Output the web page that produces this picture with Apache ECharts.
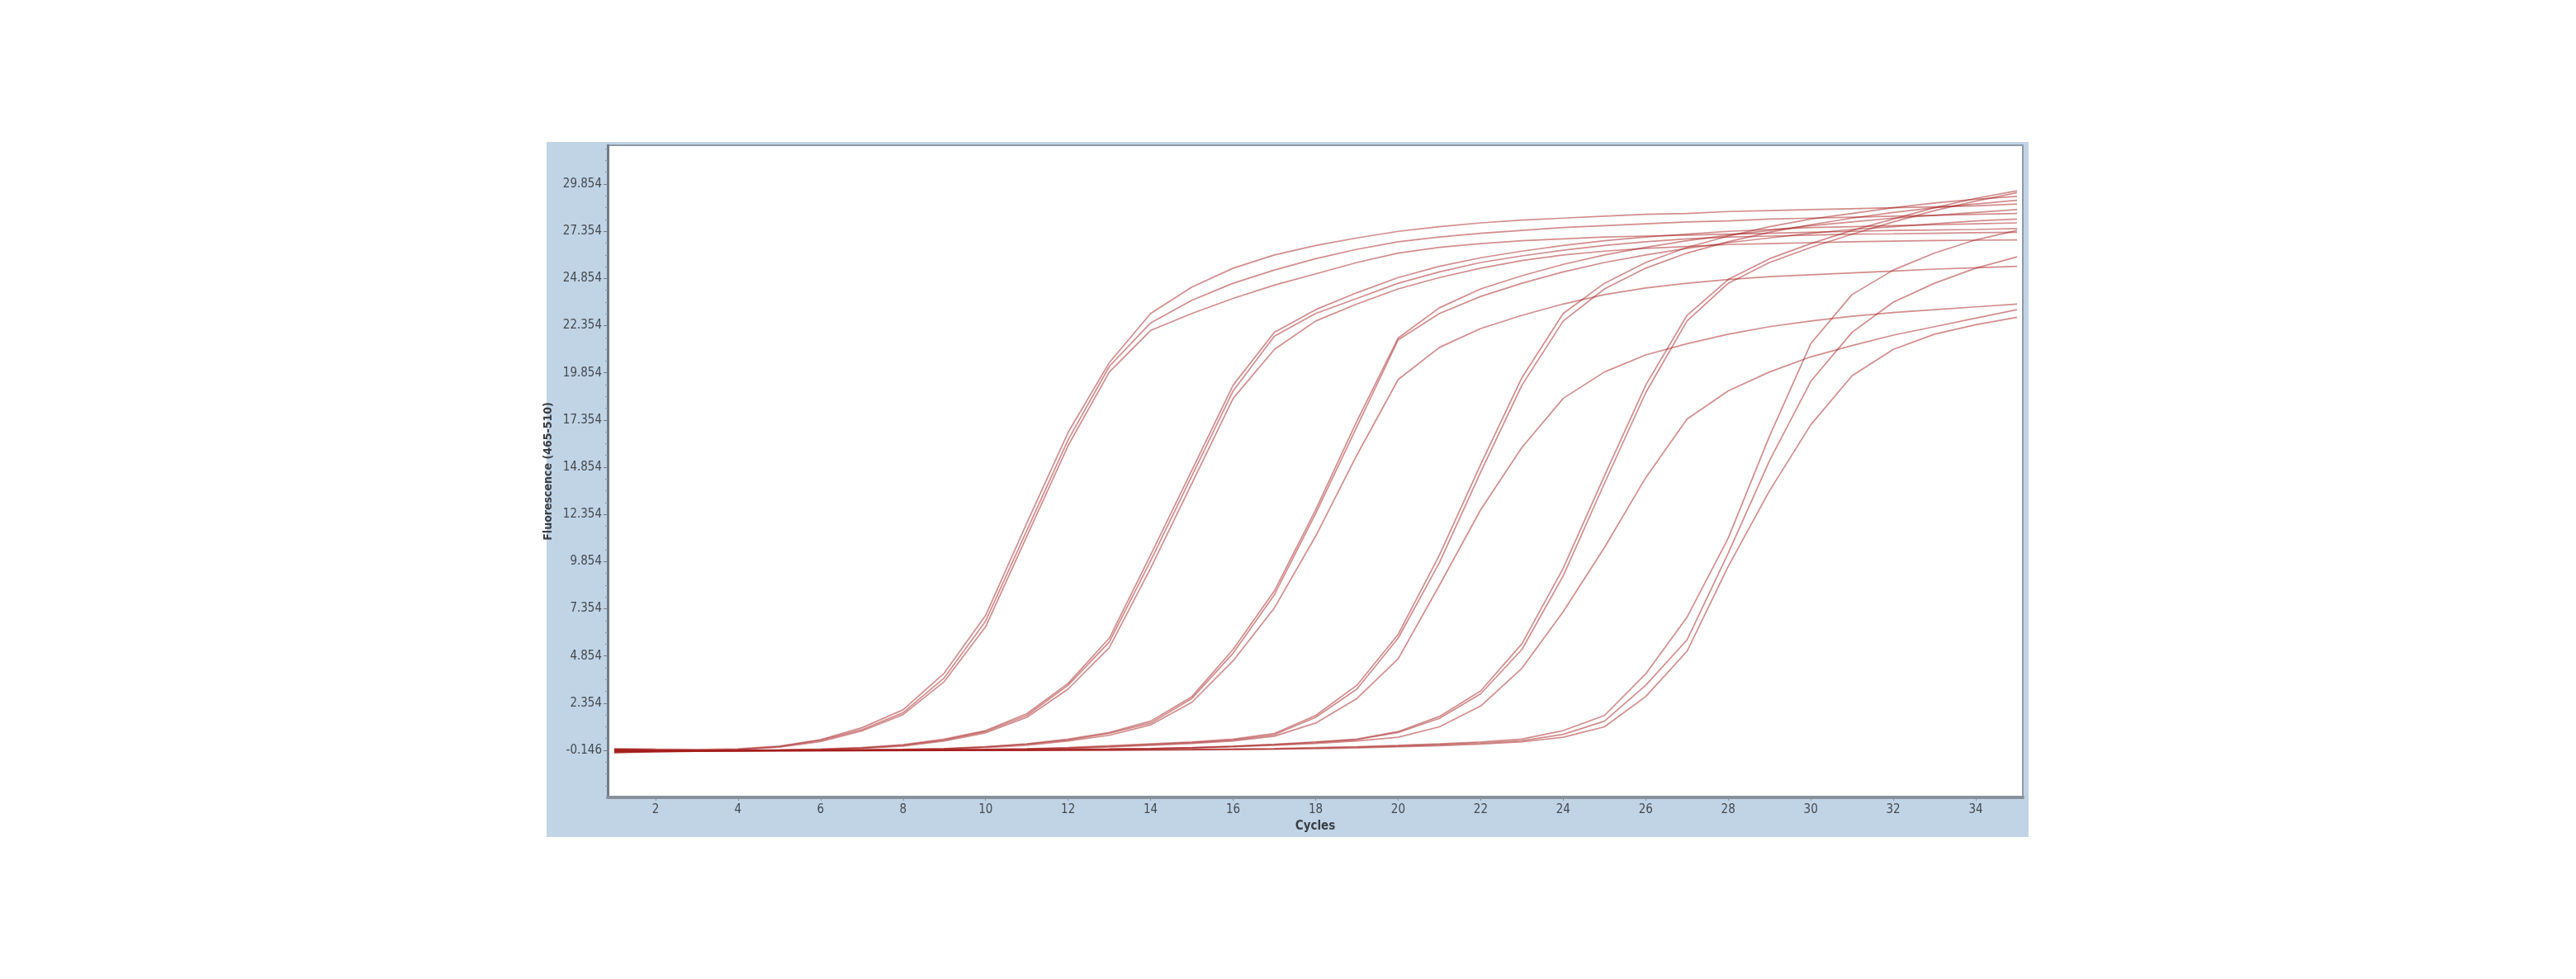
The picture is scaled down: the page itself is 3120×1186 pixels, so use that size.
<!DOCTYPE html>
<html>
<head>
<meta charset="utf-8">
<script src="https://cdn.jsdelivr.net/npm/echarts@6/dist/echarts.min.js"></script>
<style>
html,body{margin:0;padding:0;background:#fff;}
#chart{width:3120px;height:1186px;}
</style>
</head>
<body>
<div id="chart"></div>
<script>
// ---- data ----
const cycles = [1,2,3,4,5,6,7,8,9,10,11,12,13,14,15,16,17,18,19,20,21,22,23,24,25,26,27,28,29,30,31,32,33,34,35];

const xTickLabels = [2,4,6,8,10,12,14,16,18,20,22,24,26,28,30,32,34];
const yTickLabels = [-0.146,2.354,4.854,7.354,9.854,12.354,14.854,17.354,19.854,22.354,24.854,27.354,29.854];

const A1 = [-0.05,-0.08,-0.10,-0.06,0.08,0.42,1.05,2.0,3.95,7.0,11.9,16.7,20.4,23.0,24.4,25.4,26.1,26.6,27.0,27.35,27.6,27.8,27.95,28.05,28.15,28.25,28.3,28.4,28.45,28.5,28.55,28.6,28.65,28.7,28.8];
const A2 = [-0.2,-0.18,-0.15,-0.1,0.05,0.38,0.95,1.85,3.7,6.7,11.5,16.3,20.2,22.5,23.7,24.6,25.3,25.9,26.4,26.8,27.05,27.25,27.4,27.55,27.65,27.75,27.85,27.9,28.0,28.05,28.1,28.15,28.2,28.25,28.3];
const A3 = [-0.28,-0.22,-0.18,-0.12,0.02,0.32,0.88,1.75,3.5,6.4,11.2,16.0,19.9,22.1,23.0,23.8,24.5,25.1,25.7,26.2,26.5,26.7,26.85,26.95,27.05,27.1,27.15,27.2,27.25,27.3,27.35,27.4,27.42,27.45,27.5];

const B1 = [-0.1,-0.14,-0.15,-0.15,-0.12,-0.08,0.0,0.15,0.45,0.9,1.8,3.4,5.8,10.2,14.7,19.2,22.0,23.2,24.1,24.9,25.5,25.95,26.3,26.6,26.85,27.05,27.2,27.35,27.45,27.55,27.6,27.65,27.7,27.75,27.8];
const B2 = [-0.22,-0.2,-0.18,-0.16,-0.13,-0.1,-0.02,0.12,0.4,0.85,1.7,3.3,5.6,9.9,14.4,18.9,21.8,23.0,23.8,24.6,25.2,25.7,26.05,26.35,26.6,26.8,26.95,27.05,27.1,27.15,27.2,27.22,27.25,27.28,27.3];
const B3 = [-0.15,-0.16,-0.16,-0.15,-0.14,-0.11,-0.04,0.08,0.35,0.78,1.6,3.1,5.3,9.5,14.0,18.5,21.1,22.6,23.5,24.3,24.9,25.4,25.8,26.1,26.3,26.45,26.55,26.65,26.7,26.75,26.8,26.83,26.86,26.88,26.9];

const C1 = [-0.12,-0.15,-0.16,-0.16,-0.15,-0.14,-0.12,-0.1,-0.05,0.05,0.2,0.45,0.8,1.4,2.7,5.2,8.3,12.6,17.3,21.7,23.3,24.3,25.0,25.6,26.1,26.5,26.85,27.15,27.4,27.65,27.85,28.05,28.2,28.35,28.5];
const C2 = [-0.18,-0.18,-0.17,-0.16,-0.15,-0.14,-0.12,-0.1,-0.06,0.03,0.18,0.4,0.75,1.3,2.6,5.0,8.1,12.4,17.0,21.6,23.0,23.9,24.6,25.2,25.7,26.1,26.45,26.75,27.0,27.25,27.45,27.6,27.75,27.9,28.0];
const C3 = [-0.25,-0.22,-0.2,-0.18,-0.16,-0.15,-0.13,-0.11,-0.08,0.0,0.12,0.35,0.65,1.2,2.4,4.6,7.4,11.2,15.5,19.5,21.2,22.2,22.9,23.5,24.0,24.35,24.6,24.8,24.95,25.05,25.15,25.25,25.35,25.42,25.5];

const D1 = [-0.1,-0.12,-0.14,-0.15,-0.15,-0.15,-0.14,-0.13,-0.12,-0.1,-0.06,0.0,0.1,0.2,0.3,0.45,0.75,1.7,3.3,6.0,10.2,15.0,19.6,23.0,24.6,25.7,26.5,27.1,27.6,28.0,28.3,28.6,28.85,29.05,29.2];
const D2 = [-0.2,-0.18,-0.17,-0.16,-0.15,-0.15,-0.14,-0.13,-0.12,-0.1,-0.07,-0.02,0.06,0.16,0.26,0.4,0.68,1.6,3.1,5.8,9.8,14.6,19.2,22.6,24.3,25.4,26.2,26.8,27.3,27.7,28.05,28.35,28.6,28.8,29.0];
const D3 = [-0.15,-0.16,-0.16,-0.16,-0.15,-0.15,-0.14,-0.13,-0.12,-0.11,-0.08,-0.04,0.03,0.12,0.22,0.35,0.6,1.3,2.6,4.7,8.6,12.6,15.9,18.5,19.9,20.8,21.4,21.9,22.3,22.6,22.85,23.05,23.2,23.35,23.5];

const E1 = [-0.12,-0.14,-0.15,-0.15,-0.15,-0.15,-0.15,-0.14,-0.14,-0.13,-0.12,-0.1,-0.08,-0.05,0.0,0.08,0.18,0.3,0.45,0.85,1.65,3.0,5.5,9.5,14.4,19.2,22.9,24.8,25.9,26.7,27.4,28.0,28.6,29.1,29.5];
const E2 = [-0.22,-0.2,-0.18,-0.17,-0.16,-0.16,-0.15,-0.15,-0.14,-0.13,-0.12,-0.1,-0.08,-0.05,-0.01,0.06,0.15,0.27,0.42,0.8,1.55,2.85,5.2,9.1,14.0,18.8,22.6,24.6,25.7,26.5,27.2,27.85,28.45,28.95,29.4];
const E3 = [-0.18,-0.18,-0.17,-0.16,-0.16,-0.15,-0.15,-0.14,-0.14,-0.13,-0.12,-0.11,-0.09,-0.06,-0.02,0.04,0.12,0.22,0.35,0.55,1.1,2.2,4.2,7.2,10.6,14.3,17.4,18.9,19.9,20.7,21.3,21.85,22.3,22.75,23.2];

const F1 = [-0.1,-0.13,-0.15,-0.16,-0.16,-0.16,-0.15,-0.15,-0.15,-0.14,-0.14,-0.13,-0.12,-0.11,-0.1,-0.08,-0.05,0.0,0.05,0.12,0.2,0.3,0.45,0.9,1.7,3.9,6.9,11.1,16.5,21.4,24.0,25.3,26.2,26.9,27.4];
const F2 = [-0.2,-0.19,-0.18,-0.17,-0.17,-0.16,-0.16,-0.15,-0.15,-0.15,-0.14,-0.14,-0.13,-0.12,-0.11,-0.09,-0.07,-0.03,0.02,0.08,0.15,0.24,0.36,0.7,1.4,3.3,5.7,10.3,15.2,19.4,22.0,23.6,24.6,25.4,26.0];
const F3 = [-0.25,-0.22,-0.2,-0.18,-0.17,-0.17,-0.16,-0.16,-0.15,-0.15,-0.15,-0.14,-0.14,-0.13,-0.12,-0.11,-0.09,-0.06,-0.02,0.04,0.1,0.18,0.3,0.55,1.1,2.7,5.1,9.6,13.6,17.1,19.7,21.1,21.9,22.4,22.8];

const curves = {A1,A2,A3,B1,B2,B3,C1,C2,C3,D1,D2,D3,E1,E2,E3,F1,F2,F3};

// ---- chart ----
const chart = echarts.init(document.getElementById('chart'), null, {renderer:'canvas'});

const yStep = yTickLabels[1] - yTickLabels[0];
const yMinor = [];
for (let i = -1; i < yTickLabels.length + 1; i++) {
  for (let k = 1; k < 4; k++) yMinor.push(+(yTickLabels[0] + (i + k / 4) * yStep).toFixed(4));
}

const labelFont = "'Liberation Sans Narrow','DejaVu Sans Condensed','Liberation Sans',sans-serif";
const lineColor = 'rgba(165,28,28,0.5)';

const series = Object.keys(curves).map(name => ({
  name: name,
  type: 'line',
  showSymbol: false,
  symbol: 'none',
  smooth: false,
  silent: true,
  data: cycles.map((c, i) => [c, curves[name][i]]),
  lineStyle: {color: lineColor, width: 1.7},
  z: 3
}));

const yMin = -2.64, yMax = 31.91;

chart.setOption({
  animation: false,
  backgroundColor: '#ffffff',
  graphic: [{
    type: 'rect', silent: true, z: -100,
    shape: {x: 662, y: 172, width: 1795, height: 842},
    style: {fill: '#c1d4e6'}
  }],
  grid: {
    left: 736, right: 670, top: 176, bottom: 220,
    show: true, backgroundColor: '#ffffff',
    borderColor: '#8f9aa5', borderWidth: 2
  },
  xAxis: {
    type: 'value', min: 0.84, max: 35.14,
    name: 'Cycles', nameLocation: 'middle', nameGap: 22,
    nameTextStyle: {fontFamily: labelFont, fontWeight: 'bold', fontSize: 15, color: '#3a3f45'},
    axisLine: {show: true, onZero: false, lineStyle: {color: '#86919c', width: 4}},
    axisTick: {show: true, customValues: xTickLabels, length: 4, lineStyle: {color: '#86919c', width: 1}},
    axisLabel: {customValues: xTickLabels, margin: 8, fontFamily: labelFont, fontSize: 15, color: '#45494e',
      formatter: v => String(v)},
    splitLine: {show: false}
  },
  yAxis: [{
    type: 'value', min: yMin, max: yMax,
    name: 'Fluorescence (465-510)', nameLocation: 'middle', nameGap: 44, nameRotate: 90,
    nameTextStyle: {fontFamily: labelFont, fontWeight: 'bold', fontSize: 14, color: '#3a3f45'},
    axisLine: {show: true, onZero: false, lineStyle: {color: '#6f7c89', width: 3}},
    axisTick: {show: true, customValues: yTickLabels, length: 5, lineStyle: {color: '#6f7c89', width: 1}},
    axisLabel: {customValues: yTickLabels, margin: 7, fontFamily: labelFont, fontSize: 15, color: '#45494e',
      formatter: v => Number(v).toFixed(3)},
    splitLine: {show: false}
  }, {
    type: 'value', min: yMin, max: yMax, position: 'left',
    axisLine: {show: false},
    axisTick: {show: true, customValues: yMinor.filter(v => v > yMin && v < yMax), length: 3, lineStyle: {color: '#8f9aa5', width: 1}},
    axisLabel: {show: false},
    splitLine: {show: false}
  }],
  series: series
});
</script>
</body>
</html>
